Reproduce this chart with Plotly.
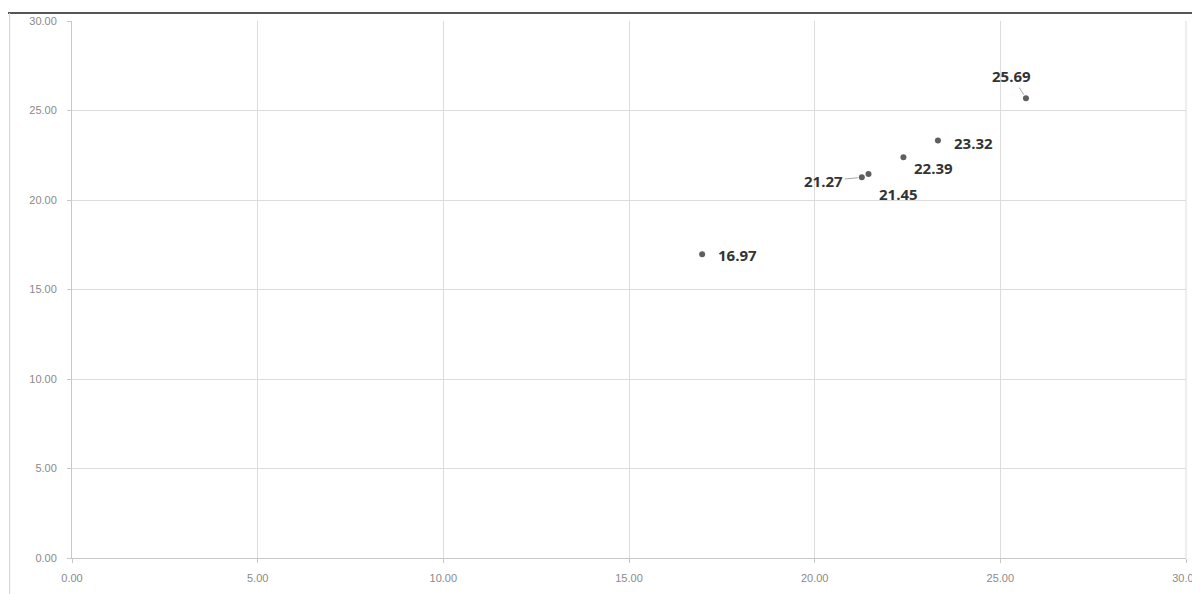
import plotly.graph_objects as go

x_vals = [16.97, 21.27, 21.45, 22.39, 23.32, 25.69]
y_vals = [16.97, 21.27, 21.45, 22.39, 23.32, 25.69]
labels = ["16.97", "21.27", "21.45", "22.39", "23.32", "25.69"]
# label offsets (pixels) relative to each point
label_dx = [35, -38, 30, 30, 36, -14]
label_dy = [-1, -4, -20, -11, -2, 22]
leader = [False, True, False, False, False, True]

tick_vals = [0, 5, 10, 15, 20, 25, 30]

fig = go.Figure()
fig.add_trace(go.Scatter(
    x=x_vals, y=y_vals, mode="markers",
    marker=dict(size=6, color="#5f5f5f"),
    hoverinfo="skip", showlegend=False,
))

label_font = dict(family="Open Sans", size=15, color="#333333", weight="bold")
for xv, yv, t, dx, dy, ld in zip(x_vals, y_vals, labels, label_dx, label_dy, leader):
    if ld:
        fig.add_annotation(
            x=xv, y=yv, text=t, showarrow=True, arrowhead=0, arrowwidth=1,
            arrowcolor="#a6a6a6", ax=dx, ay=-dy, standoff=4,
            font=label_font,
        )
    else:
        fig.add_annotation(
            x=xv, y=yv, text=t, showarrow=False, xshift=dx, yshift=dy,
            font=label_font,
        )

axis_common = dict(
    range=[0, 30], tickvals=tick_vals, tickformat=".2f",
    showgrid=True, gridcolor="#dcdcdc", gridwidth=1,
    showline=True, linecolor="#c8c8c8", linewidth=1,
    ticks="outside", ticklen=4, tickcolor="#c8c8c8",
    tickfont=dict(family="Liberation Sans", size=11, color="#8a8a8a"),
    zeroline=False, fixedrange=True, automargin=False,
)
fig.update_xaxes(**axis_common, ticklabelstandoff=6)
fig.update_yaxes(**axis_common, ticklabelstandoff=8)

fig.update_layout(
    width=1192, height=586,
    margin=dict(l=64, r=14, t=13, b=36),
    paper_bgcolor="white", plot_bgcolor="white",
    showlegend=False,
)

# decorative frame lines of the original picture
fig.add_shape(type="line", xref="paper", yref="paper",
              x0=-0.058, x1=1.02, y0=1.015, y1=1.015,
              line=dict(color="#555555", width=2))
fig.add_shape(type="line", xref="paper", yref="paper",
              x0=-0.056, x1=-0.056, y0=1.015, y1=-0.07,
              line=dict(color="#d0d0d0", width=1))
# right border of plot area
fig.add_shape(type="line", xref="paper", yref="paper",
              x0=1, x1=1, y0=0, y1=1,
              line=dict(color="#dcdcdc", width=1))

fig.write_html("out.html")
